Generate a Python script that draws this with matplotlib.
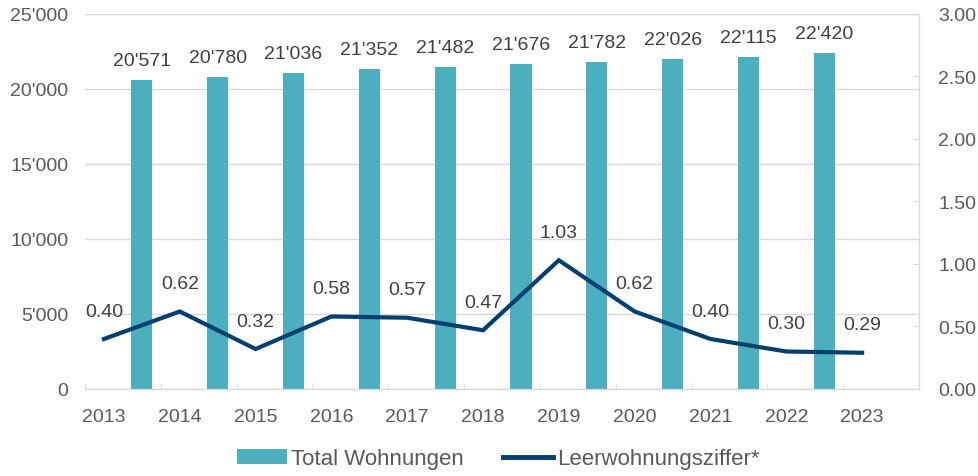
import numpy as np
import matplotlib
matplotlib.use("Agg")
import matplotlib.pyplot as plt
from matplotlib.ticker import FuncFormatter

plt.rcParams['font.family'] = ['Liberation Sans', 'DejaVu Sans']

# Daten
bar_years = np.array([2013, 2014, 2015, 2016, 2017, 2018, 2019, 2020, 2021, 2022])
total_wohnungen = [20571, 20780, 21036, 21352, 21482, 21676, 21782, 22026, 22115, 22420]

line_years = np.array([2013, 2014, 2015, 2016, 2017, 2018, 2019, 2020, 2021, 2022, 2023])
leerwohnungsziffer = [0.40, 0.62, 0.32, 0.58, 0.57, 0.47, 1.03, 0.62, 0.40, 0.30, 0.29]

bar_color = '#4BAFBF'
line_color = '#003F6F'
text_color = '#404040'
tick_color = '#595959'
grid_color = '#D9D9D9'

def tausender(x, pos=None):
    return f"{int(round(x)):,}".replace(",", "'")

fig = plt.figure(figsize=(9.79, 4.77), dpi=100)
ax = fig.add_axes([0.0868, 0.1824, 0.8519, 0.7862])
ax2 = ax.twinx()

# Balken (zwischen den Jahren)
bars = ax.bar(bar_years + 0.5, total_wohnungen, width=0.28, color=bar_color,
              label='Total Wohnungen', zorder=2)
for b, v in zip(bars, total_wohnungen):
    ax.annotate(tausender(v), (b.get_x() + b.get_width() / 2, v),
                xytext=(0, 14), textcoords='offset points', ha='center', va='center',
                fontsize=14, color=text_color)

# Linie
ln, = ax2.plot(line_years, leerwohnungsziffer, color=line_color, lw=3,
               solid_joinstyle='miter', label='Leerwohnungsziffer*', zorder=3)
for x, v in zip(line_years, leerwohnungsziffer):
    ax2.annotate(f"{v:.2f}", (x, v), xytext=(0, 20), textcoords='offset points',
                 ha='center', va='center', fontsize=14, color=text_color)

# Achsen
ax.set_xlim(2012.75, 2023.75)
ax.set_ylim(0, 25000)
ax2.set_ylim(0, 3)
ax.set_yticks(np.arange(0, 25001, 5000))
ax.yaxis.set_major_formatter(FuncFormatter(tausender))
ax2.set_yticks(np.arange(0, 3.01, 0.5))
ax2.yaxis.set_major_formatter(FuncFormatter(lambda x, p: f"{x:.2f}"))

ax.set_xticks(line_years)
ax.set_xticks(np.arange(2012.75, 2023.8, 1), minor=True)
ax.tick_params(axis='x', which='major', length=0, pad=14, labelsize=14, labelcolor=tick_color)
ax.tick_params(axis='x', which='minor', length=4, direction='in', color=grid_color)
ax.tick_params(axis='y', length=0, pad=12, labelsize=14, labelcolor=tick_color)
ax2.tick_params(axis='y', length=4, direction='in', color=grid_color, pad=14,
                labelsize=14, labelcolor=tick_color)

ax.grid(axis='y', color=grid_color, lw=1, zorder=0)
ax.set_axisbelow(True)
for a in (ax, ax2):
    a.spines['left'].set_visible(False)
    a.spines['top'].set_visible(False)
    a.spines['right'].set_color(grid_color)
    a.spines['bottom'].set_color(grid_color)

leg = fig.legend([bars, ln], ['Total Wohnungen', 'Leerwohnungsziffer*'], loc='center',
                 bbox_to_anchor=(0.509, 0.036), ncol=2, frameon=False, fontsize=16,
                 handlelength=2.25, handleheight=0.6, columnspacing=1.75, handletextpad=0.2,
                 labelcolor=tick_color)
leg.get_lines()[0].set_linewidth(3.5)

fig.savefig('out.png', dpi=100)
